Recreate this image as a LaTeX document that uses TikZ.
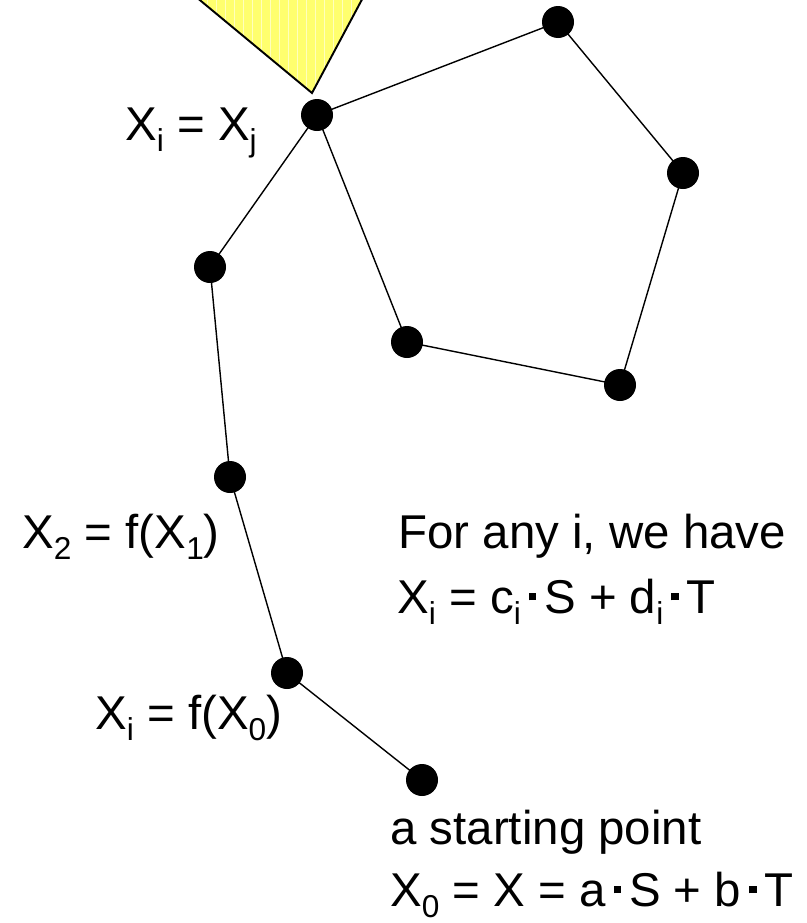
\documentclass[tikz,border=0pt]{standalone}
\usepackage{fontspec}
\setmainfont{Liberation Sans}
\usepackage{xcolor}
\definecolor{triyellow}{RGB}{255,255,110}
\definecolor{gridyellow}{RGB}{255,255,190}

% subscript and small square dot
\newcommand{\lowsub}[1]{\raisebox{-0.45ex}{\fontsize{18pt}{18pt}\selectfont #1}}
\newcommand{\sqdot}{\,\raisebox{0.5ex}{\rule{0.16em}{0.16em}}\,}

\begin{document}
\begin{tikzpicture}[x=0.02cm,y=-0.02cm]
    \clip (0,0) rectangle (807,923);
    \tikzset{
        edge/.style={black,line width=0.8pt},
        lbl/.style={font=\fontsize{27pt}{30pt}\selectfont,inner sep=0pt}
    }

    % points of the walk
    \coordinate (X0) at (422,780);
    \coordinate (X1) at (287,673);
    \coordinate (X2) at (230,477);
    \coordinate (X3) at (210,267);
    \coordinate (Xj) at (317,115);
    \coordinate (P1) at (558,22);
    \coordinate (P2) at (683,173);
    \coordinate (P3) at (620,385);
    \coordinate (P4) at (407,342);
    \coordinate (T1) at (172,-23);
    \coordinate (T2) at (374,-23);
    \coordinate (T3) at (312,93);

    % yellow triangle with faint grid
    \fill[triyellow] (T1) -- (T3) -- (T2) -- cycle;
    \begin{scope}
        \clip (T1) -- (T3) -- (T2) -- cycle;
        \draw[gridyellow,line width=0.5pt,step=9] (160,-30) grid (380,100);
    \end{scope}
    \draw[black,line width=1.1pt] (T1) -- (T3) -- (T2);

    % connecting lines
    \draw[edge] (X0) -- (X1);
    \draw[edge] (X1) -- (X2);
    \draw[edge] (X2) -- (X3);
    \draw[edge] (X3) -- (Xj);
    \draw[edge] (Xj) -- (P1);
    \draw[edge] (P1) -- (P2);
    \draw[edge] (P2) -- (P3);
    \draw[edge] (P3) -- (P4);
    \draw[edge] (P4) -- (Xj);

    % points
    \foreach \p in {X0,X1,X2,X3,Xj,P1,P2,P3,P4}
        \fill (\p) circle (16);

    % labels
    \node[lbl,anchor=base west] (lxj) at (125,140) {X\lowsub{i} = X\lowsub{j}};
    \node[lbl,anchor=base west] (lx2) at (22,548) {X\lowsub{2} = f(X\lowsub{1})};
    \node[lbl,anchor=base west] (lany) at (398,548) {For any i, we have};
    \node[lbl,anchor=base west] (lci) at (397,613) {X\lowsub{i} = c\lowsub{i}\sqdot S + d\lowsub{i}\sqdot T};
    \node[lbl,anchor=base west] (lxi) at (95,729) {X\lowsub{i} = f(X\lowsub{0})};
    \node[lbl,anchor=base west] (lstart) at (390,844) {a starting point};
    \node[lbl,anchor=base west] (lx0) at (390,906) {X\lowsub{0} = X = a\sqdot S + b\sqdot T};

\end{tikzpicture}
\end{document}
